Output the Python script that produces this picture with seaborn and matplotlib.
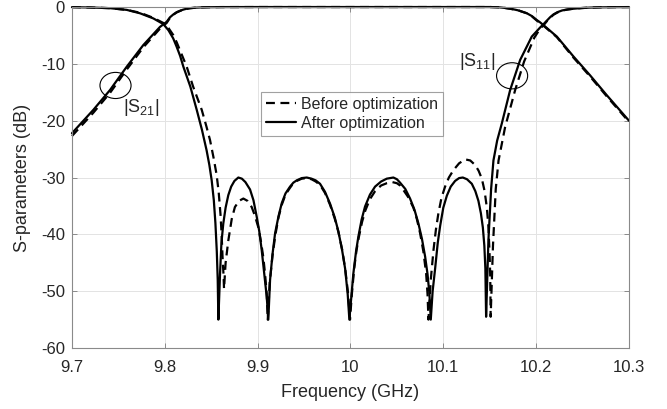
import matplotlib
matplotlib.use("Agg")
import matplotlib.pyplot as plt
import seaborn as sns
import pandas as pd
from matplotlib.patches import Ellipse

# ---------------- data ----------------
s11_after_f = [9.700, 9.720, 9.741, 9.759, 9.7733, 9.7876, 9.7984, 9.804, 9.809, 9.8128, 9.8165, 9.820, 9.8275,
               9.8344, 9.840, 9.845, 9.848, 9.8505, 9.8528, 9.8545, 9.856, 9.857, 9.8577,
               9.8595, 9.861, 9.863, 9.8655, 9.8684, 9.8715, 9.875, 9.8792, 9.883, 9.8868, 9.8918, 9.8955,
               9.899, 9.9018, 9.9044, 9.9075, 9.9098, 9.9115,
               9.9134, 9.9160, 9.9188, 9.9225, 9.926, 9.930, 9.9349, 9.9385, 9.9421, 9.9475, 9.9529, 9.958,
               9.9625, 9.9672, 9.9725, 9.978, 9.983, 9.987, 9.991, 9.9942, 9.997, 9.9988,
               10.0031, 10.006, 10.0085, 10.012, 10.0157, 10.021, 10.0265, 10.033, 10.0391, 10.0462, 10.050,
               10.0534, 10.059, 10.0642, 10.069, 10.0732, 10.077, 10.0804, 10.083, 10.085, 10.0865,
               10.0885, 10.0912, 10.094, 10.0966, 10.100, 10.1038, 10.108, 10.1127, 10.117, 10.121, 10.1255,
               10.1307, 10.1345, 10.1378, 10.1405, 10.1426, 10.1442, 10.1453, 10.1461,
               10.1486, 10.1515, 10.154, 10.158, 10.163, 10.172, 10.1828, 10.1953, 10.2043, 10.208, 10.2115,
               10.215, 10.2187, 10.223, 10.228, 10.234, 10.240, 10.249, 10.258, 10.270, 10.285, 10.300]
s11_after_db = [-0.02, -0.08, -0.2, -0.5, -1.1, -2.0, -3.0, -4.1, -5.5, -7.0, -8.6, -10.5, -14.0,
                -18.1, -21.6, -25.2, -27.8, -30.5, -34.0, -38.0, -43.0, -48.0, -55.0,
                -46.9, -41.5, -38.1, -35.3, -33.1, -31.6, -30.6, -30.0, -30.2, -30.8, -32.1, -34.0,
                -36.9, -39.5, -42.8, -47.5, -51.0, -55.0,
                -48.0, -43.5, -39.8, -36.8, -34.5, -32.8, -31.6, -30.9, -30.5, -30.1, -30.0, -30.2,
                -30.5, -31.1, -32.5, -34.6, -37.0, -39.5, -42.8, -46.0, -50.5, -55.0,
                -46.9, -43.0, -40.4, -37.4, -35.1, -33.0, -31.6, -30.7, -30.2, -30.0, -30.3,
                -30.9, -32.0, -33.7, -35.7, -38.1, -40.8, -43.9, -47.0, -50.4, -55.0,
                -50.0, -46.0, -41.5, -38.5, -35.3, -33.2, -31.6, -30.6, -30.1, -30.0, -30.3,
                -31.1, -32.4, -34.1, -36.3, -38.8, -42.0, -46.0, -54.5,
                -41.0, -32.0, -27.0, -23.5, -20.5, -14.6, -9.3, -5.2, -3.6, -3.0, -2.4,
                -1.8, -1.3, -0.9, -0.6, -0.42, -0.3, -0.18, -0.1, -0.05, -0.02, -0.01]

s11_before_f = [9.700, 9.720, 9.741, 9.759, 9.7733, 9.7876, 9.7984, 9.804, 9.809, 9.8128, 9.8236, 9.8305,
                9.8398, 9.8448, 9.8487, 9.8525, 9.8558, 9.858, 9.860, 9.8612, 9.8622, 9.8632, 9.8638,
                9.8655, 9.8684, 9.8721, 9.8755, 9.880, 9.8846, 9.889, 9.8936, 9.897, 9.9008, 9.9035,
                9.9061, 9.908, 9.9098, 9.9109,
                9.913, 9.9160, 9.919, 9.9225, 9.926, 9.930, 9.9349, 9.9385, 9.9421, 9.9475, 9.9529, 9.958,
                9.9625, 9.9672, 9.9725, 9.978, 9.983, 9.987, 9.9912, 9.9945, 9.9975, 9.9995,
                10.0015, 10.004, 10.0065, 10.009, 10.0125, 10.016, 10.021, 10.0265, 10.033, 10.0391, 10.045,
                10.050, 10.0534, 10.057, 10.062, 10.0678, 10.0715, 10.075, 10.0785, 10.0815, 10.083, 10.084,
                10.0865, 10.0894, 10.092, 10.0947, 10.098, 10.1019, 10.106, 10.1109, 10.117, 10.1235, 10.129,
                10.1343, 10.138, 10.1415, 10.1445, 10.1469, 10.1485, 10.1497, 10.1505, 10.151,
                10.1535, 10.1565, 10.1595, 10.1666, 10.1774, 10.187, 10.198, 10.2043, 10.208, 10.2115,
                10.215, 10.2187, 10.223, 10.228, 10.234, 10.240, 10.249, 10.258, 10.270, 10.285, 10.300]
s11_before_db = [-0.02, -0.08, -0.2, -0.5, -1.0, -1.9, -2.8, -3.7, -4.9, -6.2, -10.5, -14.0,
                 -18.1, -21.0, -23.4, -26.5, -29.5, -32.5, -36.5, -40.0, -44.0, -47.0, -49.6,
                 -45.0, -41.1, -37.3, -35.2, -34.1, -33.7, -34.1, -35.2, -36.7, -38.8, -41.2,
                 -44.0, -47.0, -50.5, -55.0,
                 -48.5, -43.8, -40.2, -37.0, -34.8, -33.0, -31.8, -31.0, -30.6, -30.2, -30.1, -30.3,
                 -30.7, -31.3, -32.7, -34.8, -37.2, -39.6, -42.8, -46.3, -50.5, -55.0,
                 -50.5, -46.0, -42.8, -40.5, -37.8, -35.8, -33.8, -32.4, -31.4, -31.0, -30.8,
                 -31.0, -31.4, -32.2, -33.4, -35.3, -37.3, -39.8, -43.0, -46.9, -50.5, -55.0,
                 -48.0, -42.8, -39.2, -36.3, -33.6, -31.6, -30.0, -28.7, -27.5, -26.8, -27.0,
                 -27.8, -28.8, -30.2, -32.4, -35.3, -38.5, -42.8, -47.0, -54.5,
                 -42.0, -32.0, -27.0, -21.1, -14.6, -9.6, -5.4, -3.8, -3.2, -2.5,
                 -1.9, -1.35, -0.95, -0.62, -0.43, -0.3, -0.18, -0.1, -0.05, -0.02, -0.01]

s21_after_f = [9.700, 9.723, 9.741, 9.759, 9.7768, 9.7948, 9.802, 9.8056, 9.8092, 9.8128, 9.8165, 9.820,
               9.8235, 9.827, 9.833, 9.840, 9.848, 9.860, 9.900, 10.000, 10.100, 10.150, 10.160, 10.166,
               10.172, 10.177, 10.181, 10.1855, 10.190, 10.1955, 10.2008, 10.2043,
               10.208, 10.2223, 10.2402, 10.258, 10.276, 10.300]
s21_after_db = [-22.2, -18.1, -14.6, -10.5, -6.7, -3.5, -2.6, -1.8, -1.3, -0.9, -0.65, -0.45,
                -0.3, -0.2, -0.12, -0.06, -0.03, -0.01, 0.0, 0.0, 0.0, 0.0, -0.05, -0.15,
                -0.3, -0.45, -0.6, -0.85, -1.1, -1.6, -2.3, -2.7,
                -3.2, -5.2, -8.7, -12.0, -15.5, -20.0]

s21_before_f = [9.700, 9.723, 9.741, 9.759, 9.7768, 9.7948, 9.802, 9.8056, 9.8092, 9.8128, 9.8165, 9.820,
                9.8235, 9.827, 9.833, 9.840, 9.848, 9.860, 9.900, 10.000, 10.100, 10.150, 10.160, 10.166,
                10.172, 10.177, 10.181, 10.1855, 10.190, 10.1955, 10.2008, 10.2043,
                10.208, 10.2223, 10.2402, 10.258, 10.276, 10.300]
s21_before_db = [-22.7, -18.6, -15.1, -11.0, -7.1, -3.8, -2.8, -1.9, -1.35, -0.95, -0.68, -0.47,
                 -0.32, -0.21, -0.12, -0.06, -0.03, -0.01, 0.0, 0.0, 0.0, 0.0, -0.05, -0.15,
                 -0.3, -0.45, -0.6, -0.85, -1.1, -1.65, -2.4, -2.8,
                 -3.3, -5.3, -8.9, -12.2, -15.7, -20.2]

x_ticks = [9.7, 9.8, 9.9, 10.0, 10.1, 10.2, 10.3]
x_tick_labels = ["9.7", "9.8", "9.9", "10", "10.1", "10.2", "10.3"]
y_ticks = [-60, -50, -40, -30, -20, -10, 0]
y_tick_labels = ["-60", "-50", "-40", "-30", "-20", "-10", "0"]

legend_labels = ["Before optimization", "After optimization"]

# ---------------- style ----------------
sns.set_theme(style="white")
plt.rcParams["font.family"] = ["Liberation Sans", "DejaVu Sans"]
plt.rcParams["mathtext.fontset"] = "custom"
plt.rcParams["mathtext.rm"] = "Liberation Sans"
plt.rcParams["mathtext.it"] = "Liberation Sans"

fig = plt.figure(figsize=(6.67, 4.09), dpi=100)
ax = fig.add_axes([0.1079, 0.1491, 0.8351, 0.8337])

dash = (0, (4, 2.5))
series = [
    (s21_before_f, s21_before_db, dash, "_nolegend_"),
    (s21_after_f, s21_after_db, "-", "_nolegend_"),
    (s11_before_f, s11_before_db, dash, legend_labels[0]),
    (s11_after_f, s11_after_db, "-", legend_labels[1]),
]
handles = {}
for f, db, ls, lab in series:
    df = pd.DataFrame({"f": f, "db": db})
    n_before = len(ax.lines)
    sns.lineplot(data=df, x="f", y="db", ax=ax, sort=False, estimator=None,
                 color="black", linewidth=1.6, linestyle=ls, clip_on=False, legend=False)
    if lab != "_nolegend_":
        handles[lab] = ax.lines[n_before]

ax.set_xlim(9.7, 10.3)
ax.set_ylim(-60, 0)
ax.set_xticks(x_ticks)
ax.set_xticklabels(x_tick_labels)
ax.set_yticks(y_ticks)
ax.set_yticklabels(y_tick_labels)

ax.grid(True, color="#e3e3e3", linewidth=0.7)
ax.set_axisbelow(True)
for sp in ax.spines.values():
    sp.set_visible(True)
    sp.set_color("#8a8a8a")
    sp.set_linewidth(0.8)
ax.tick_params(axis="both", which="both", direction="in", length=3.5, width=0.7,
               colors="#8a8a8a", labelcolor="#262626", labelsize=12,
               top=True, right=True, bottom=True, left=True)
ax.tick_params(axis="x", pad=8.5)
ax.tick_params(axis="y", pad=5)

ax.set_xlabel("Frequency (GHz)", fontsize=13, color="#262626")
ax.set_ylabel("S-parameters (dB)", fontsize=13, color="#262626")
ax.xaxis.set_label_coords(0.5, -0.129)
ax.xaxis.label.set_va("center")
ax.yaxis.set_label_coords(-0.088, 0.5)
ax.yaxis.label.set_va("center")

# annotations
ax.add_patch(Ellipse((9.7469, -13.8), 0.0335, 4.6, fill=False, edgecolor="black", linewidth=0.8))
ax.add_patch(Ellipse((10.1741, -12.1), 0.0335, 4.6, fill=False, edgecolor="black", linewidth=0.8))
ax.text(9.755, -18.5, r"|S$_{\mathrm{21}}$|", fontsize=13, color="#262626", va="baseline", ha="left")
ax.text(10.117, -10.3, r"|S$_{\mathrm{11}}$|", fontsize=13, color="#262626", va="baseline", ha="left")

leg = ax.legend([handles[legend_labels[0]], handles[legend_labels[1]]], legend_labels,
                loc="upper left", bbox_to_anchor=(0.339, 0.751), borderaxespad=0,
                fontsize=11.5, frameon=True, fancybox=False, handlelength=1.9,
                handletextpad=0.3, labelspacing=0.25, borderpad=0.3)
leg.get_frame().set_edgecolor("#8a8a8a")
leg.get_frame().set_linewidth(0.8)
for t in leg.get_texts():
    t.set_color("#262626")

fig.savefig("out.png", dpi=100)
